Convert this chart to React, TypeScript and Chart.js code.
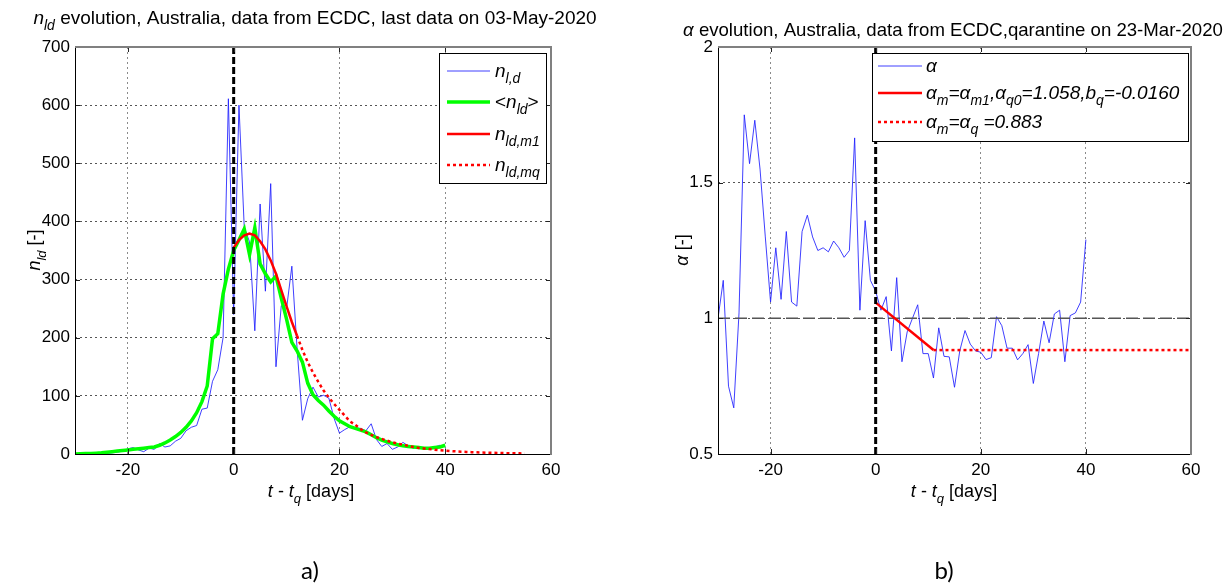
import React, { useEffect, useRef } from 'react';
import { Chart, registerables } from 'chart.js';

Chart.register(...registerables);

const FONT = '"Liberation Sans", Arial, Helvetica, sans-serif';

// ---------- data: panel a) ----------
const days = [
  -30, -29, -28, -27, -26, -25, -24, -23, -22, -21, -20, -19, -18, -17, -16, -15, -14, -13, -12, -11,
  -10, -9, -8, -7, -6, -5, -4, -3, -2, -1, 0, 1, 2, 3, 4, 5, 6, 7, 8, 9,
  10, 11, 12, 13, 14, 15, 16, 17, 18, 19, 20, 21, 22, 23, 24, 25, 26, 27, 28, 29,
  30, 31, 32, 33, 34, 35, 36, 37, 38, 39, 40,
];
const nDaily = [
  0, 0, 1, 0, 2, 1, 1, 2, 3, 5, 9, 11, 7, 4, 10, 8, 18, 12, 14, 22,
  27, 40, 46, 49, 77, 79, 125, 145, 200, 611, 240, 600, 390, 365, 212, 430, 280, 465, 150, 255,
  250, 323, 180, 58, 95, 115, 98, 101, 96, 61, 36, 42, 47, 45, 44, 40, 52, 25, 13, 18,
  8, 12, 20, 14, 10, 13, 8, 10, 12, 15, 12,
];
const nMean = [
  0, 0.5, 1, 1, 1.5, 2, 3, 4, 5, 6, 7, 8, 9, 10, 11, 12, 15, 19, 24, 30,
  37, 46, 57, 71, 90, 117, 198, 207, 275, 318, 350, 368, 387, 343, 389, 327, 310, 296, 306, 268,
  232, 192, 177, 158, 122, 102, 92, 84, 74, 65, 57, 52, 47, 44, 41, 38, 33, 28, 24, 21,
  18, 16, 14, 13, 12, 11, 10, 10, 11, 12, 15,
];
const fitDays = [0, 1, 2, 3, 4, 5, 6, 7, 8, 9, 10, 11, 12];
const fitValues = [355, 368, 376, 379, 376, 366, 352, 333, 310, 282, 254, 227, 203];
const tailDays = [
  12, 13, 14, 15, 16, 17, 18, 19, 20, 21, 22, 23, 24, 25, 26, 27, 28, 29, 30, 31,
  32, 33, 34, 35, 36, 37, 38, 39, 40, 41, 42, 43, 44, 45, 46, 47, 48, 49, 50, 51,
  52, 53, 54, 55,
];
const tailValues = [
  203, 179, 158, 140, 124, 109, 97, 86, 76, 66, 56, 50, 43, 37, 33, 29, 26, 23, 20, 18,
  16, 14, 12, 10.5, 9.5, 8.5, 7.5, 6.5, 5.8, 5.1, 4.5, 4, 3.6, 3.2, 2.8, 2.5, 2.2, 2, 1.8, 1.6,
  1.4, 1.3, 1.1, 1,
];
const quarantineDay = 0;
const xTicks = [-20, 0, 20, 40, 60];
const nTicks = [0, 100, 200, 300, 400, 500, 600, 700];

// ---------- data: panel b) ----------
const alphaValues = [
  1.0, 1.14, 0.75, 0.67, 1.02, 1.75, 1.57, 1.73, 1.55, 1.3, 1.06, 1.26, 1.07, 1.32, 1.06, 1.045, 1.32, 1.38, 1.3, 1.25,
  1.26, 1.245, 1.285, 1.26, 1.225, 1.25, 1.665, 1.03, 1.36, 1.14, 1.1, 1.03, 1.08, 0.88, 1.15, 0.84, 0.95, 1.0, 1.05, 0.87,
  0.87, 0.78, 0.965, 0.86, 0.858, 0.746, 0.88, 0.955, 0.905, 0.88, 0.875, 0.848, 0.855, 1.006, 0.973, 0.89, 0.89, 0.847, 0.87, 0.903,
  0.76, 0.87, 0.99, 0.91, 1.016, 1.03, 0.84, 1.01, 1.02, 1.06, 1.29,
];
const alphaFitDays = [0, 11];
const alphaFitValues = [1.058, 0.883];
const alphaTailDays = [11, 60];
const alphaTailValues = [0.883, 0.883];
const alphaRef = 1;
const alphaTicks = [0.5, 1, 1.5, 2];

// ---------- helpers ----------
type Seg = { t: string; i?: boolean; s?: boolean };

const pts = (xs: number[], ys: number[]) => xs.map((x, k) => ({ x, y: ys[k] }));

function segFont(seg: Seg, size: number) {
  const sz = seg.s ? Math.round(size * 0.72) : size;
  return `${seg.i ? 'italic ' : ''}${sz}px ${FONT}`;
}

function richWidth(ctx: CanvasRenderingContext2D, segs: Seg[], size: number) {
  let w = 0;
  for (const s of segs) {
    ctx.font = segFont(s, size);
    w += ctx.measureText(s.t).width;
  }
  return w;
}

function drawRich(
  ctx: CanvasRenderingContext2D,
  x: number,
  y: number,
  segs: Seg[],
  size: number,
  align: 'left' | 'center' = 'left',
) {
  const w = richWidth(ctx, segs, size);
  let cx = align === 'center' ? x - w / 2 : x;
  ctx.textAlign = 'left';
  ctx.textBaseline = 'alphabetic';
  ctx.fillStyle = '#000';
  for (const s of segs) {
    ctx.font = segFont(s, size);
    ctx.fillText(s.t, cx, y + (s.s ? size * 0.32 : 0));
    cx += ctx.measureText(s.t).width;
  }
}

function line(ctx: CanvasRenderingContext2D, x1: number, y1: number, x2: number, y2: number) {
  ctx.beginPath();
  ctx.moveTo(x1, y1);
  ctx.lineTo(x2, y2);
  ctx.stroke();
}

function drawFrame(chart: any, xt: number[], yt: number[]) {
  const { ctx, chartArea: ca, scales } = chart;
  ctx.save();
  ctx.setLineDash([]);
  ctx.strokeStyle = '#222';
  ctx.lineWidth = 1;
  for (const v of xt) {
    const px = Math.round(scales.x.getPixelForValue(v)) + 0.5;
    line(ctx, px, ca.bottom, px, ca.bottom - 5);
    line(ctx, px, ca.top, px, ca.top + 5);
  }
  for (const v of yt) {
    const py = Math.round(scales.y.getPixelForValue(v)) + 0.5;
    line(ctx, ca.left, py, ca.left + 5, py);
    line(ctx, ca.right, py, ca.right - 5, py);
  }
  ctx.strokeStyle = '#000';
  ctx.lineWidth = 1;
  line(ctx, ca.left + 0.5, ca.top, ca.left + 0.5, ca.bottom);
  line(ctx, ca.left, ca.bottom + 0.5, ca.right, ca.bottom + 0.5);
  ctx.strokeStyle = '#808080';
  ctx.lineWidth = 2;
  line(ctx, ca.left, ca.top, ca.right + 1, ca.top);
  line(ctx, ca.right, ca.top, ca.right, ca.bottom + 1);
  ctx.restore();
}

type LegendRow = { color: string; width: number; dash: number[]; segs: Seg[]; y: number };

function drawLegend(
  ctx: CanvasRenderingContext2D,
  box: { x: number; y: number; w: number; h: number },
  rows: LegendRow[],
  sx1: number,
  sx2: number,
  tx: number,
  size: number,
) {
  ctx.save();
  ctx.setLineDash([]);
  ctx.fillStyle = '#fff';
  ctx.fillRect(box.x, box.y, box.w, box.h);
  ctx.strokeStyle = '#000';
  ctx.lineWidth = 1;
  ctx.strokeRect(box.x + 0.5, box.y + 0.5, box.w, box.h);
  for (const r of rows) {
    ctx.strokeStyle = r.color;
    ctx.lineWidth = r.width;
    ctx.setLineDash(r.dash);
    line(ctx, sx1, r.y, sx2, r.y);
    ctx.setLineDash([]);
    drawRich(ctx, tx, r.y + size * 0.3, r.segs, size, 'left');
  }
  ctx.restore();
}

const xLabelSegs: Seg[] = [
  { t: 't', i: true },
  { t: ' - ' },
  { t: 't', i: true },
  { t: 'q', i: true, s: true },
  { t: ' [days]' },
];

const decorLeft = {
  id: 'decorLeft',
  afterDraw(chart: any) {
    const ctx = chart.ctx as CanvasRenderingContext2D;
    drawFrame(chart, xTicks, nTicks);
    drawRich(
      ctx,
      315,
      24,
      [{ t: 'n', i: true }, { t: 'ld', i: true, s: true }, { t: ' evolution, Australia, data from ECDC, last data on 03-May-2020' }],
      19,
      'center',
    );
    drawRich(ctx, 311, 497, xLabelSegs, 18, 'center');
    ctx.save();
    ctx.translate(40, 250);
    ctx.rotate(-Math.PI / 2);
    drawRich(ctx, 0, 0, [{ t: 'n', i: true }, { t: 'ld', i: true, s: true }, { t: ' [-]' }], 18, 'center');
    ctx.restore();
    drawLegend(
      ctx,
      { x: 439, y: 53, w: 107, h: 130 },
      [
        { color: 'rgba(30,30,255,0.85)', width: 1, dash: [], segs: [{ t: 'n', i: true }, { t: 'l,d', i: true, s: true }], y: 71 },
        { color: '#00ff00', width: 3.5, dash: [], segs: [{ t: '<' }, { t: 'n', i: true }, { t: 'ld', i: true, s: true }, { t: '>' }], y: 102 },
        { color: '#ff0000', width: 2.5, dash: [], segs: [{ t: 'n', i: true }, { t: 'ld,m1', i: true, s: true }], y: 134 },
        { color: '#ff0000', width: 2.5, dash: [3, 3], segs: [{ t: 'n', i: true }, { t: 'ld,mq', i: true, s: true }], y: 165 },
      ],
      447,
      490,
      495,
      19,
    );
    ctx.save();
    ctx.font = `24px Lato, "Open Sans", sans-serif`;
    ctx.fillStyle = '#000';
    ctx.textAlign = 'center';
    ctx.textBaseline = 'middle';
    ctx.fillText('a)', 310, 571);
    ctx.restore();
  },
};

const decorRight = {
  id: 'decorRight',
  afterDraw(chart: any) {
    const ctx = chart.ctx as CanvasRenderingContext2D;
    drawFrame(chart, xTicks, alphaTicks);
    drawRich(
      ctx,
      337,
      36,
      [{ t: 'α', i: true }, { t: ' evolution, Australia, data from ECDC,qarantine on 23-Mar-2020' }],
      18.6,
      'center',
    );
    drawRich(ctx, 338, 497, xLabelSegs, 18, 'center');
    ctx.save();
    ctx.translate(72, 250);
    ctx.rotate(-Math.PI / 2);
    drawRich(ctx, 0, 0, [{ t: 'α', i: true }, { t: ' [-]' }], 18, 'center');
    ctx.restore();
    drawLegend(
      ctx,
      { x: 256, y: 53, w: 316, h: 88 },
      [
        { color: 'rgba(30,30,255,0.85)', width: 1, dash: [], segs: [{ t: 'α', i: true }], y: 66 },
        {
          color: '#ff0000',
          width: 2.5,
          dash: [],
          segs: [
            { t: 'α', i: true },
            { t: 'm', i: true, s: true },
            { t: '=α', i: true },
            { t: 'm1', i: true, s: true },
            { t: ',α', i: true },
            { t: 'q0', i: true, s: true },
            { t: '=1.058,b', i: true },
            { t: 'q', i: true, s: true },
            { t: '=-0.0160', i: true },
          ],
          y: 93,
        },
        {
          color: '#ff0000',
          width: 2.5,
          dash: [3, 3],
          segs: [
            { t: 'α', i: true },
            { t: 'm', i: true, s: true },
            { t: '=α', i: true },
            { t: 'q', i: true, s: true },
            { t: ' =0.883', i: true },
          ],
          y: 122,
        },
      ],
      262,
      306,
      310,
      19,
    );
    ctx.save();
    ctx.font = `24px Lato, "Open Sans", sans-serif`;
    ctx.fillStyle = '#000';
    ctx.textAlign = 'center';
    ctx.textBaseline = 'middle';
    ctx.fillText('b)', 328, 571);
    ctx.restore();
  },
};

function axisX(gridColor: string) {
  return {
    type: 'linear' as const,
    min: -30,
    max: 60,
    afterBuildTicks: (ax: any) => {
      ax.ticks = xTicks.map((v) => ({ value: v }));
    },
    afterFit: (s: any) => {
      s.height = 30;
    },
    ticks: { padding: 6, color: '#000', font: { family: FONT, size: 17 }, maxRotation: 0, autoSkip: false },
    grid: { color: gridColor, drawTicks: false, lineWidth: 1 },
    border: { display: false, dash: [2, 3] },
  };
}

function axisY(min: number, max: number, ticks: number[], width: number) {
  return {
    type: 'linear' as const,
    min,
    max,
    afterBuildTicks: (ax: any) => {
      ax.ticks = ticks.map((v) => ({ value: v }));
    },
    afterFit: (s: any) => {
      s.width = width;
    },
    ticks: {
      padding: 5,
      color: '#000',
      font: { family: FONT, size: 17 },
      callback: (v: any) => String(v),
    },
    grid: { color: '#555', drawTicks: false, lineWidth: 1 },
    border: { display: false, dash: [2, 3] },
  };
}

const baseOptions = (padRight: number, scales: any) => ({
  animation: false as const,
  responsive: false,
  devicePixelRatio: 1,
  events: [] as any[],
  layout: { padding: { left: 0, top: 47, right: padRight, bottom: 100 } },
  plugins: { legend: { display: false }, tooltip: { enabled: false }, title: { display: false } },
  elements: { point: { radius: 0 }, line: { tension: 0 } },
  scales,
});

export default function App() {
  const leftRef = useRef<HTMLCanvasElement>(null);
  const rightRef = useRef<HTMLCanvasElement>(null);

  useEffect(() => {
    const left = new Chart(leftRef.current!, {
      type: 'line',
      data: {
        datasets: [
          {
            data: [
              { x: quarantineDay, y: nTicks[0] },
              { x: quarantineDay, y: nTicks[nTicks.length - 1] },
            ],
            borderColor: '#000',
            borderWidth: 3,
            borderDash: [7, 3],
            order: 0,
          },
          { data: pts(fitDays, fitValues), borderColor: '#ff0000', borderWidth: 2.5, order: 1 },
          { data: pts(tailDays, tailValues), borderColor: '#ff0000', borderWidth: 2.5, borderDash: [3, 3], order: 2 },
          { data: pts(days, nMean), borderColor: '#00ff00', borderWidth: 3.5, order: 3 },
          { data: pts(days, nDaily), borderColor: 'rgba(30,30,255,0.85)', borderWidth: 1, order: 4 },
        ],
      },
      options: baseOptions(65, { x: axisX('#8a8a8a'), y: axisY(0, 700, nTicks, 75) }) as any,
      plugins: [decorLeft],
    } as any);

    const right = new Chart(rightRef.current!, {
      type: 'line',
      data: {
        datasets: [
          {
            data: [
              { x: quarantineDay, y: alphaTicks[0] },
              { x: quarantineDay, y: alphaTicks[alphaTicks.length - 1] },
            ],
            borderColor: '#000',
            borderWidth: 3,
            borderDash: [7, 3],
            order: 0,
          },
          { data: pts(alphaFitDays, alphaFitValues), borderColor: '#ff0000', borderWidth: 2.5, order: 1 },
          { data: pts(alphaTailDays, alphaTailValues), borderColor: '#ff0000', borderWidth: 2.5, borderDash: [3, 3], order: 2 },
          {
            data: [
              { x: -30, y: alphaRef },
              { x: 60, y: alphaRef },
            ],
            borderColor: '#555',
            borderWidth: 1.5,
            borderDash: [12, 5],
            order: 3,
          },
          { data: pts(days, alphaValues), borderColor: 'rgba(30,30,255,0.85)', borderWidth: 1, order: 4 },
        ],
      },
      options: baseOptions(41, { x: axisX('#8a8a8a'), y: axisY(0.5, 2, alphaTicks, 102) }) as any,
      plugins: [decorRight],
    } as any);

    return () => {
      left.destroy();
      right.destroy();
    };
  }, []);

  return (
    <div style={{ position: 'absolute', left: 0, top: 0, width: 1232, height: 584, background: '#fff' }}>
      <canvas ref={leftRef} width={616} height={584} style={{ position: 'absolute', left: 0, top: 0, width: 616, height: 584 }} />
      <canvas ref={rightRef} width={616} height={584} style={{ position: 'absolute', left: 616, top: 0, width: 616, height: 584 }} />
    </div>
  );
}
